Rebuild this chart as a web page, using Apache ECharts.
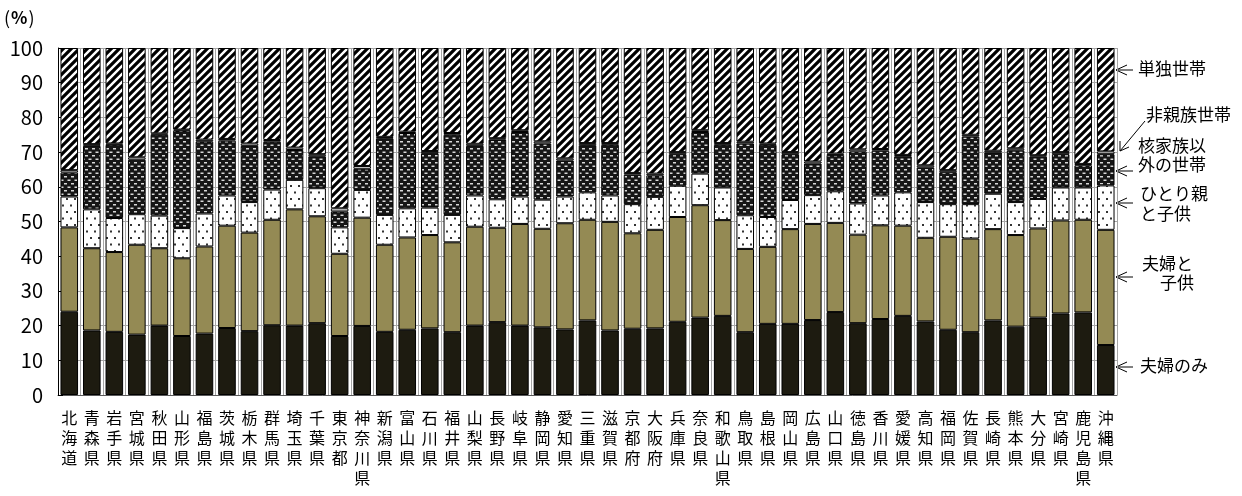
<!DOCTYPE html>
<html>
<head>
<meta charset="utf-8">
<script src="https://cdn.jsdelivr.net/npm/echarts@6/dist/echarts.min.js"></script>
<style>
  html, body { margin: 0; padding: 0; background: #fff; }
  #chart { width: 1242px; height: 496px; }
</style>
</head>
<body>
<div id="chart"></div>
<script>
// 都道府県別 世帯の家族類型別割合（%）
const prefectures = [
  '北海道','青森県','岩手県','宮城県','秋田県','山形県','福島県','茨城県','栃木県','群馬県',
  '埼玉県','千葉県','東京都','神奈川県','新潟県','富山県','石川県','福井県','山梨県','長野県',
  '岐阜県','静岡県','愛知県','三重県','滋賀県','京都府','大阪府','兵庫県','奈良県','和歌山県',
  '鳥取県','島根県','岡山県','広島県','山口県','徳島県','香川県','愛媛県','高知県','福岡県',
  '佐賀県','長崎県','熊本県','大分県','宮崎県','鹿児島県','沖縄県'
];

const coupleOnly = [
  24.0,18.6,18.2,17.4,20.0,17.0,17.7,19.3,18.4,20.1,
  20.0,20.7,17.0,19.9,18.2,18.8,19.2,18.1,20.0,21.0,
  20.0,19.5,18.9,21.5,18.6,19.1,19.2,21.1,22.3,22.8,
  18.1,20.5,20.5,21.6,23.9,20.7,21.9,22.8,21.2,18.8,
  18.1,21.5,19.7,22.3,23.5,23.8,14.4
];
const coupleWithChildren = [
  24.3,23.7,23.0,25.9,22.3,22.4,25.1,29.5,28.4,30.4,
  33.5,30.8,23.7,31.2,25.1,26.6,26.9,25.9,28.5,27.2,
  29.3,28.4,30.6,29.0,31.3,27.5,28.4,30.2,32.4,27.6,
  24.0,22.2,27.3,27.7,25.7,25.5,27.0,26.0,24.1,26.8,
  27.0,26.3,26.4,25.7,26.8,26.7,33.2
];
const singleParent = [
  8.9,11.2,9.8,8.8,9.4,8.7,9.5,8.7,8.8,8.7,
  8.5,8.1,7.6,8.0,8.6,8.4,7.9,7.9,9.0,8.2,
  7.9,8.4,7.7,7.9,7.6,8.4,9.5,9.0,9.1,9.4,
  9.7,8.6,8.4,8.3,9.1,9.0,8.6,9.6,10.3,9.4,
  9.9,10.2,9.5,8.5,9.5,9.3,12.8
];
const otherRelatives = [
  6.9,18.3,21.1,15.7,23.3,28.1,20.8,15.8,16.2,13.8,
  8.6,9.2,4.6,6.1,22.1,21.7,15.7,23.1,14.3,17.2,
  18.6,16.2,10.4,13.6,14.6,8.5,6.2,9.1,12.0,12.3,
  20.7,20.8,13.2,9.1,10.5,15.0,12.9,10.4,10.0,9.2,
  19.5,11.9,14.9,12.2,9.6,6.4,9.0
];
const nonRelatives = [
  0.7,0.5,0.4,0.7,0.4,0.3,0.5,0.5,0.7,0.5,
  0.7,0.6,0.9,0.8,0.4,0.4,0.6,0.5,0.6,0.4,
  0.5,0.6,0.6,0.6,0.5,0.5,0.5,0.6,0.5,0.5,
  0.5,0.4,0.6,0.6,0.4,0.6,0.5,0.4,0.6,0.6,
  0.5,0.5,0.6,0.4,0.6,0.4,0.8
];
const singlePerson = [
  35.2,27.7,27.5,31.5,24.6,23.5,26.4,26.2,27.5,26.5,
  28.7,30.6,46.2,34.0,25.6,24.1,29.7,24.5,27.6,26.0,
  23.7,26.9,31.8,27.4,27.4,36.0,36.2,30.0,23.7,27.4,
  27.0,27.5,30.0,32.7,30.4,29.2,29.1,30.8,33.8,35.2,
  25.0,29.6,28.9,30.9,30.0,33.4,29.8
];
const yTicks = [0, 10, 20, 30, 40, 50, 60, 70, 80, 90, 100];

const FONT = '"Noto Sans CJK JP", "Noto Sans", sans-serif';

// ---- fill patterns ----
function makeTile(w, h, draw) {
  const c = document.createElement('canvas');
  c.width = w; c.height = h;
  draw(c.getContext('2d'), w, h);
  return { image: c, repeat: 'repeat' };
}
const hatchFill = makeTile(8, 8, (ctx, w, h) => {
  ctx.fillStyle = '#fff'; ctx.fillRect(0, 0, w, h);
  ctx.strokeStyle = '#000'; ctx.lineWidth = 3.2;
  ctx.beginPath();
  ctx.moveTo(-2, 10); ctx.lineTo(10, -2);
  ctx.moveTo(-6, 6); ctx.lineTo(6, -6);
  ctx.moveTo(2, 14); ctx.lineTo(14, 2);
  ctx.stroke();
});
const brickFill = makeTile(7, 7, (ctx, w, h) => {
  ctx.fillStyle = '#161616'; ctx.fillRect(0, 0, w, h);
  ctx.fillStyle = '#d8d8d8';
  ctx.fillRect(1, 1, 3, 1.5);
  ctx.fillRect(4.5, 4.5, 2.5, 1.5);
  ctx.fillRect(0, 4.5, 0.5, 1.5);
});
const dotFill = makeTile(8, 13, (ctx, w, h) => {
  ctx.fillStyle = '#fff'; ctx.fillRect(0, 0, w, h);
  ctx.fillStyle = '#333';
  ctx.fillRect(2, 3, 2, 2);
  ctx.fillRect(6, 9.5, 2, 2);
});

const barBorder = { borderColor: '#000', borderWidth: 1 };
function layer(name, data, color) {
  return {
    name, type: 'bar', stack: 'total', data,
    barCategoryGap: '22%',
    itemStyle: Object.assign({ color }, barBorder),
    emphasis: { disabled: true }
  };
}

// ---- right-side annotations ----
const annoStyle = { fill: '#000', font: '17px ' + FONT, textVerticalAlign: 'middle' };
function note(text, x, y) {
  return { type: 'text', left: x, top: y - 10, style: Object.assign({ text }, annoStyle) };
}
function arrow(x1, y) {
  return [
    { type: 'polyline', shape: { points: [[x1 + 11, y - 5], [x1, y], [x1 + 11, y + 5]] }, style: { stroke: '#000', lineWidth: 1, fill: null } },
    { type: 'line', shape: { x1, y1: y, x2: x1 + 17, y2: y }, style: { stroke: '#000', lineWidth: 1 } }
  ];
}

const chart = echarts.init(document.getElementById('chart'));
chart.setOption({
  animation: false,
  grid: { left: 58, right: 125, top: 48, bottom: 101, containLabel: false },
  xAxis: {
    type: 'category',
    data: prefectures,
    axisLine: { lineStyle: { color: '#595959', width: 1 } },
    axisTick: { inside: true, length: 4, lineStyle: { color: '#404040' } },
    splitLine: { show: true, lineStyle: { color: '#a6a6a6', width: 1 } },
    axisLabel: {
      interval: 0, margin: 13,
      fontFamily: FONT, fontSize: 16, color: '#000', lineHeight: 20,
      verticalAlign: 'top',
      formatter: v => v.split('').join('\n')
    }
  },
  yAxis: {
    type: 'value', min: yTicks[0], max: yTicks[yTicks.length - 1], interval: 10,
    axisLine: { show: true, lineStyle: { color: '#000', width: 1 } },
    axisTick: { show: true, inside: true, length: 5, lineStyle: { color: '#000' } },
    splitLine: { show: true, lineStyle: { color: '#a6a6a6', width: 1 } },
    axisLabel: { margin: 15, fontFamily: FONT, fontSize: 20, color: '#000' }
  },
  series: [
    layer('夫婦のみ', coupleOnly, '#1d1b10'),
    layer('夫婦と子供', coupleWithChildren, '#948a54'),
    layer('ひとり親と子供', singleParent, dotFill),
    layer('核家族以外の世帯', otherRelatives, brickFill),
    layer('非親族世帯', nonRelatives, '#ffffff'),
    layer('単独世帯', singlePerson, hatchFill)
  ],
  graphic: [
    {
      type: 'text', left: 4, top: 9,
      style: {
        text: '{p|(}{b|%}{p|)}',
        rich: {
          p: { fontFamily: FONT, fontSize: 18, fill: '#000' },
          b: { fontFamily: FONT, fontSize: 17, fontWeight: 'bold', fill: '#000', padding: [0, 1] }
        }
      }
    },
    note('単独世帯', 1138, 70), ...arrow(1116, 70),
    note('非親族世帯', 1146, 116),
    { type: 'line', shape: { x1: 1145, y1: 121, x2: 1120, y2: 151 }, style: { stroke: '#000', lineWidth: 1 } },
    { type: 'polyline', shape: { points: [[1120, 141], [1120, 151], [1129, 147]] }, style: { stroke: '#000', lineWidth: 1, fill: null } },
    note('核家族以', 1138, 147), note('外の世帯', 1138, 166), ...arrow(1116, 171),
    note('ひとり親', 1140, 195), note('と子供', 1140, 215), ...arrow(1116, 203),
    note('夫婦と', 1142, 265), note('子供', 1160, 284), ...arrow(1116, 277),
    note('夫婦のみ', 1140, 367), ...arrow(1116, 367)
  ]
});
</script>
</body>
</html>
